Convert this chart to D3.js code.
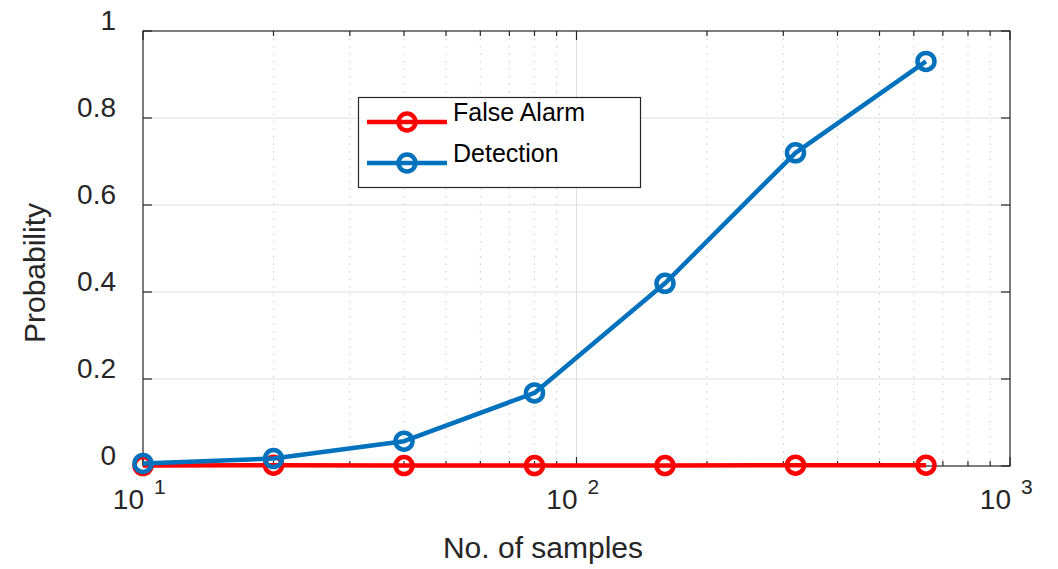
<!DOCTYPE html>
<html><head><meta charset="utf-8">
<script src="https://cdn.jsdelivr.net/npm/d3@7"></script>
<style>body{margin:0;background:#fff}svg{display:block;font-family:"Liberation Sans",Arial,sans-serif}</style>
</head><body><svg id="c" width="1058" height="569"></svg>
<script>
const samples = [10, 20, 40, 80, 160, 320, 640];
const falseAlarm = [0.001, 0.002, 0.001, 0.001, 0.001, 0.002, 0.002];
const detection = [0.006, 0.017, 0.057, 0.168, 0.42, 0.72, 0.93];
const yTicks = [0, 0.2, 0.4, 0.6, 0.8, 1];
const yTickLabels = ["0", "0.2", "0.4", "0.6", "0.8", "1"];
const xMajor = [10, 100, 1000];
const xExponents = ["1", "2", "3"];
const seriesNames = ["False Alarm", "Detection"];
const seriesColors = ["#ff0000", "#0072bd"];

const L = 143, R = 1010, T = 31, B = 466;
const svg = d3.select("#c");
const x = d3.scaleLog().domain([10, 1000]).range([L, R]);
const y = d3.scaleLinear().domain([0, 1]).range([B, T]);
const axisColor = "#262626";

const xMinor = [];
for (let d = 10; d < 1000; d *= 10) for (let k = 2; k <= 9; k++) xMinor.push(d * k);

// grid
const g = svg.append("g");
g.selectAll(".ym").data(yTicks.slice(1, -1)).join("line")
  .attr("x1", L).attr("x2", R).attr("y1", d => y(d)).attr("y2", d => y(d))
  .attr("stroke", "#dfdfdf").attr("stroke-width", 1);
g.selectAll(".xm").data(xMinor).join("line")
  .attr("x1", d => x(d)).attr("x2", d => x(d)).attr("y1", T).attr("y2", B)
  .attr("stroke", "#c8c8c8").attr("stroke-width", 1).attr("stroke-dasharray", "1.5,6");
g.selectAll(".xM").data([100]).join("line")
  .attr("x1", d => x(d)).attr("x2", d => x(d)).attr("y1", T).attr("y2", B)
  .attr("stroke", "#dfdfdf").attr("stroke-width", 1);

// box & ticks
const ax = svg.append("g").attr("stroke", axisColor).attr("stroke-width", 1.2);
ax.append("rect").attr("x", L).attr("y", T).attr("width", R - L).attr("height", B - T).attr("fill", "none");
yTicks.forEach(v => {
  ax.append("line").attr("x1", L).attr("x2", L + 9).attr("y1", y(v)).attr("y2", y(v));
  ax.append("line").attr("x1", R).attr("x2", R - 9).attr("y1", y(v)).attr("y2", y(v));
});
xMajor.forEach(v => {
  ax.append("line").attr("x1", x(v)).attr("x2", x(v)).attr("y1", B).attr("y2", B - 9);
  ax.append("line").attr("x1", x(v)).attr("x2", x(v)).attr("y1", T).attr("y2", T + 9);
});
xMinor.forEach(v => {
  ax.append("line").attr("x1", x(v)).attr("x2", x(v)).attr("y1", B).attr("y2", B - 5);
  ax.append("line").attr("x1", x(v)).attr("x2", x(v)).attr("y1", T).attr("y2", T + 5);
});

// tick labels
svg.selectAll(".yl").data(yTicks).join("text")
  .attr("x", L - 27).attr("y", d => y(d) - 1).attr("text-anchor", "end")
  .attr("font-size", 28).attr("fill", axisColor).text((d, i) => yTickLabels[i]);
xMajor.forEach((v, i) => {
  svg.append("text").attr("x", x(v) + 1).attr("y", 509).attr("text-anchor", "end")
    .attr("font-size", 28).attr("fill", axisColor).text("10");
  svg.append("text").attr("x", x(v) + 11).attr("y", 494).attr("text-anchor", "start")
    .attr("font-size", 21).attr("fill", axisColor).text(xExponents[i]);
});

// axis titles
svg.append("text").attr("x", 543).attr("y", 558).attr("text-anchor", "middle")
  .attr("font-size", 30).attr("fill", axisColor).text("No. of samples");
svg.append("text").attr("transform", `translate(45,273) rotate(-90)`)
  .attr("text-anchor", "middle").attr("font-size", 30).attr("fill", axisColor).text("Probability");

// series
const line = d3.line().x(d => x(d[0])).y(d => y(d[1]));
[falseAlarm, detection].forEach((vals, si) => {
  const pts = samples.map((s, i) => [s, vals[i]]);
  const sg = svg.append("g");
  sg.append("path").datum(pts).attr("d", line).attr("fill", "none")
    .attr("stroke", seriesColors[si]).attr("stroke-width", 4.5).attr("stroke-linejoin", "round");
  sg.selectAll("circle").data(pts).join("circle")
    .attr("cx", d => x(d[0])).attr("cy", d => y(d[1])).attr("r", 8.5)
    .attr("fill", "none").attr("stroke", seriesColors[si]).attr("stroke-width", 4.5);
});

// legend
const lg = svg.append("g");
lg.append("rect").attr("x", 358.5).attr("y", 97.5).attr("width", 282).attr("height", 90)
  .attr("fill", "#fff").attr("stroke", axisColor).attr("stroke-width", 1.2);
seriesNames.forEach((n, i) => {
  const yy = 122 + i * 41;
  lg.append("line").attr("x1", 367).attr("x2", 447).attr("y1", yy).attr("y2", yy)
    .attr("stroke", seriesColors[i]).attr("stroke-width", 4.5);
  lg.append("circle").attr("cx", 407).attr("cy", yy).attr("r", 8.5).attr("fill", "none")
    .attr("stroke", seriesColors[i]).attr("stroke-width", 4.5);
  lg.append("text").attr("x", 453).attr("y", 121 + i * 41).attr("font-size", 25).attr("fill", "#000").text(n);
});
</script></body></html>
